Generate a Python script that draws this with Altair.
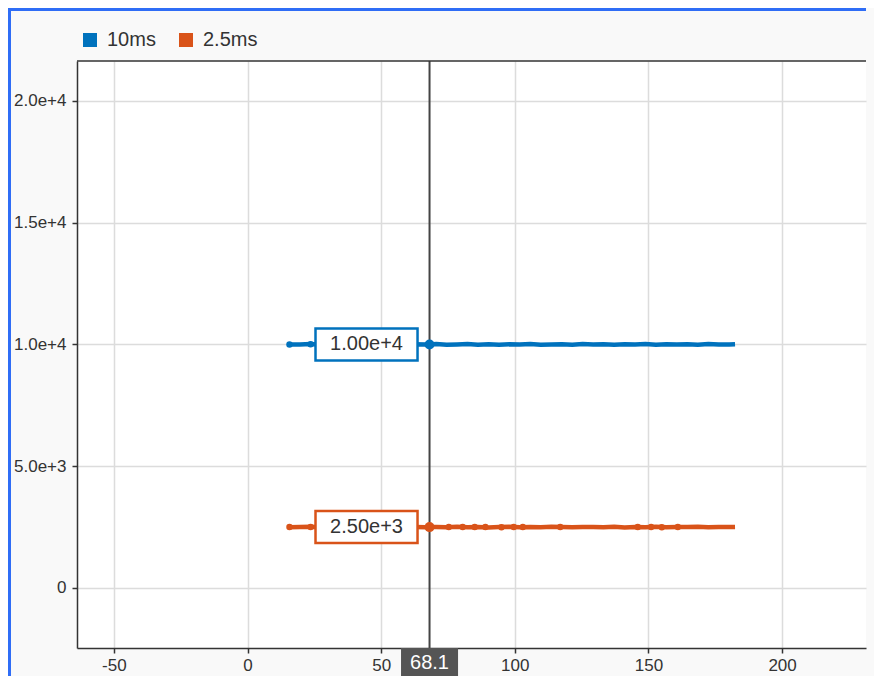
import altair as alt
import pandas as pd

# ---- data ----
series_names = ["10ms", "2.5ms"]
series_colors = ["#0072BD", "#D95319"]

t = [15.7, 19.6, 23.6, 27.5, 31.4, 35.3, 39.2, 43.1, 47.0, 51.0,
     54.9, 58.8, 62.7, 66.6, 68.1, 70.6, 74.5, 78.4, 82.3, 86.2,
     90.2, 94.1, 98.0, 101.9, 105.8, 109.7, 113.7, 117.6, 121.5, 125.4,
     129.3, 133.2, 137.2, 141.1, 145.0, 148.9, 152.8, 156.7, 160.6, 164.6,
     168.5, 172.4, 176.3, 180.2, 182.4]
y_10ms = [9995, 10000, 10015, 9990, 10005, 9985, 10010, 9995, 10020, 9990,
          10005, 9980, 10010, 9995, 10000, 10020, 9985, 10000, 10015, 9990,
          10010, 9985, 10005, 9995, 10020, 9990, 10000, 10010, 9985, 10015,
          9995, 10005, 9990, 10010, 9995, 10020, 9985, 10005, 9995, 10010,
          9990, 10015, 10000, 9995, 10005]
y_2_5ms = [2495, 2500, 2510, 2490, 2505, 2500, 2485, 2510, 2495, 2505,
           2490, 2510, 2500, 2495, 2500, 2505, 2490, 2510, 2495, 2505,
           2485, 2500, 2510, 2490, 2505, 2495, 2510, 2500, 2490, 2505,
           2500, 2495, 2510, 2485, 2505, 2495, 2510, 2490, 2505, 2500,
           2510, 2495, 2505, 2500, 2505]

marker_t_10ms = [15.7, 23.6]
marker_y_10ms = [10000, 10010]
marker_t_2_5ms = [15.7, 23.6, 75.3, 80.5, 85.0, 89.0, 95.0, 99.6, 103.0,
                  117.0, 146.0, 151.0, 155.0, 161.0]
marker_y_2_5ms = [2500, 2500, 2505, 2500, 2505, 2500, 2495, 2505, 2500,
                  2500, 2505, 2500, 2495, 2500]

cursor_x = 68.1
cursor_y = [10000, 2500]
cursor_labels = ["1.00e+4", "2.50e+3"]

x_ticks = [-50, 0, 50, 100, 150, 200]
y_ticks = [0, 5000, 10000, 15000, 20000]
x_domain = [-63.8, 231.4]
y_domain = [-2465, 21640]

# ---- tables ----
lines_df = pd.DataFrame({
    "t": t + t,
    "v": y_10ms + y_2_5ms,
    "s": [series_names[0]] * len(t) + [series_names[1]] * len(t),
})
markers_df = pd.DataFrame({
    "t": marker_t_10ms + marker_t_2_5ms,
    "v": marker_y_10ms + marker_y_2_5ms,
    "s": [series_names[0]] * len(marker_t_10ms) + [series_names[1]] * len(marker_t_2_5ms),
})
xu = 50 / 133.6   # data units per pixel (x)
yu = 5000 / 121.7  # data units per pixel (y)
box_right = cursor_x - 12 * xu
box_left = box_right - 102 * xu
cursor_df = pd.DataFrame({
    "t": [cursor_x, cursor_x],
    "v": cursor_y,
    "s": series_names,
    "lab": cursor_labels,
    "bx1": [box_left] * 2,
    "bx2": [box_right] * 2,
    "by1": [v - 16 * yu for v in cursor_y],
    "by2": [v + 16 * yu for v in cursor_y],
    "tx": [(box_left + box_right) / 2] * 2,
})
cx_df = pd.DataFrame({"t": [cursor_x], "lab": [f"{cursor_x:.1f}"],
                      "l": [cursor_x - 28.5 * xu], "r": [cursor_x + 28.5 * xu]})

FONT = "Arial, Liberation Sans, sans-serif"
W, H = 789, 587

xs = alt.Scale(domain=x_domain, nice=False, zero=False)
ys = alt.Scale(domain=y_domain, nice=False, zero=False)
cs = alt.Scale(domain=series_names, range=series_colors)

X = alt.X("t:Q", scale=xs, axis=alt.Axis(
    values=x_ticks, title=None, labelPadding=4,
    labelExpr="datum.value < 0 ? '-' + format(-datum.value, 'd') : format(datum.value, 'd')"))
Y = alt.Y("v:Q", scale=ys, axis=alt.Axis(
    values=y_ticks, title=None, labelPadding=6,
    labelExpr="datum.value == 0 ? '0' : format(datum.value, '.1e')"))

lines = alt.Chart(lines_df).mark_line(strokeWidth=4.5).encode(
    x=X, y=Y,
    color=alt.Color("s:N", scale=cs, legend=alt.Legend(
        orient="none", legendX=3, legendY=-31, direction="horizontal",
        title=None, symbolType="square", symbolSize=196, symbolStrokeWidth=0,
        labelFontSize=20, labelFont=FONT, labelColor="#333", labelOffset=7,
        columnPadding=20, padding=0, symbolOpacity=1)),
)
markers = alt.Chart(markers_df).mark_circle(size=42, opacity=1).encode(
    x=alt.X("t:Q", scale=xs), y=alt.Y("v:Q", scale=ys),
    color=alt.Color("s:N", scale=cs, legend=None))

crosshair = alt.Chart(cx_df).mark_rule(color="#444", strokeWidth=2).encode(
    x=alt.X("t:Q", scale=xs))

boxes = alt.Chart(cursor_df).mark_rect(fill="white", strokeWidth=2.5).encode(
    x=alt.X("bx1:Q", scale=xs), x2="bx2:Q",
    y=alt.Y("by1:Q", scale=ys), y2="by2:Q",
    stroke=alt.Stroke("s:N", scale=cs, legend=None))
box_text = alt.Chart(cursor_df).mark_text(fontSize=20, font=FONT, color="#333").encode(
    x=alt.X("tx:Q", scale=xs), y=alt.Y("v:Q", scale=ys), text="lab:N")
dots = alt.Chart(cursor_df).mark_circle(size=100, opacity=1).encode(
    x=alt.X("t:Q", scale=xs), y=alt.Y("v:Q", scale=ys),
    color=alt.Color("s:N", scale=cs, legend=None))

xbox = alt.Chart(cx_df).mark_rect(color="#555", opacity=1).encode(
    x=alt.X("l:Q", scale=xs), x2="r:Q", y=alt.value(H), y2=alt.value(H + 30))
xtext = alt.Chart(cx_df).mark_text(fontSize=20, font=FONT, color="white").encode(
    x=alt.X("t:Q", scale=xs), y=alt.value(H + 15), text="lab:N")

top_frame = alt.Chart(cx_df).mark_rule(color="#333", strokeWidth=1.5).encode(
    x=alt.value(0), x2=alt.value(W), y=alt.value(0))
blue_top = alt.Chart(cx_df).mark_rule(color="#2f6df6", strokeWidth=3).encode(
    x=alt.value(-69), x2=alt.value(W), y=alt.value(-51.5))
blue_left = alt.Chart(cx_df).mark_rule(color="#2f6df6", strokeWidth=3).encode(
    x=alt.value(-67.5), y=alt.value(-53), y2=alt.value(H + 40))

chart = alt.layer(
    lines, markers, crosshair, boxes, box_text, dots, xbox, xtext,
    top_frame, blue_top, blue_left
).properties(
    width=W, height=H,
    autosize=alt.AutoSizeParams(type="none"),
    padding={"left": 69, "top": 53, "right": 8, "bottom": 28},
    background="#f9f9f9",
).configure_view(
    fill="white", stroke=None
).configure_axis(
    domainColor="#333", domainWidth=1.5, tickColor="#333", tickSize=5, tickWidth=1.5,
    gridColor="#dcdcdc", gridWidth=1.5, labelFont=FONT, labelFontSize=17,
    labelColor="#333",
)

chart.save("out.html", embed_options={"renderer": "svg", "actions": False})
